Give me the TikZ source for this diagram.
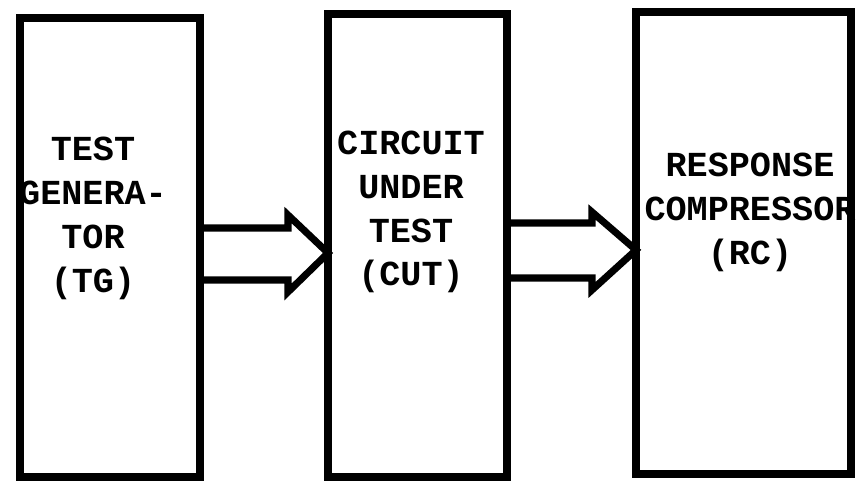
\documentclass[tikz,border=0pt]{standalone}
\usepackage{fontspec}
\setmonofont{Liberation Mono}
\usetikzlibrary{positioning}

\begin{document}
\begin{tikzpicture}[
    every node/.style={font=\fontsize{10}{12.5}\selectfont\ttfamily\bfseries, align=center},
    blk/.style={draw, line width=2.4pt, outer sep=0pt, inner sep=0pt},
    bigarr/.style={draw, line width=2pt, line join=miter}
]
\useasboundingbox (0,0) rectangle (8.57,4.91);
\node (tg) [blk, minimum width=1.80cm, minimum height=4.59cm] at (1.10,2.435) {};
\node (cut) [blk, minimum width=1.79cm, minimum height=4.63cm] at (4.175,2.455) {};
\node (rc) [blk, minimum width=2.15cm, minimum height=4.62cm] at (7.435,2.48) {};
\node (tgtext) at ([xshift=-0.17cm, yshift=0.295cm]tg.center) {TEST\\GENERA-\\TOR\\(TG)};
\node (cuttext) at ([xshift=-0.065cm, yshift=0.335cm]cut.center) {CIRCUIT\\UNDER\\TEST\\(CUT)};
\node (rctext) at ([xshift=0.065cm, yshift=0.31cm]rc.center) {RESPONSE\\COMPRESSOR\\(RC)};
\draw[bigarr] (tg.east |- 0,2.63) -- (2.88,2.63) -- (2.88,2.76) -- (cut.west |- 0,2.38)
    -- (2.88,1.99) -- (2.88,2.11) -- (tg.east |- 0,2.11);
\draw[bigarr] (cut.east |- 0,2.68) -- (5.92,2.68) -- (5.92,2.79) -- (rc.west |- 0,2.41)
    -- (5.92,2.01) -- (5.92,2.13) -- (cut.east |- 0,2.13);
\end{tikzpicture}
\end{document}
